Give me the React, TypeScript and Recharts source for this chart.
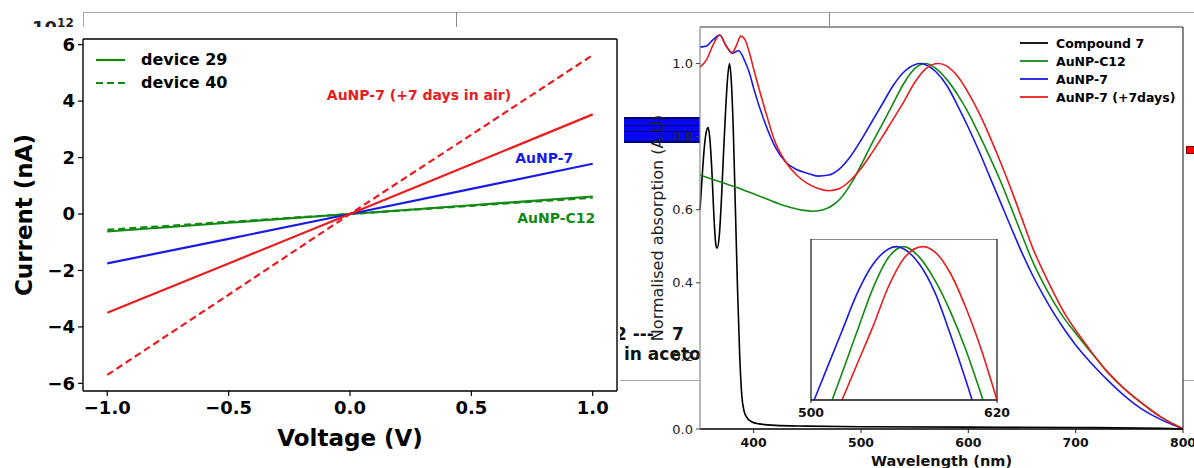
import React from 'react';
import { LineChart, Line, XAxis, YAxis, ReferenceLine, ReferenceArea, ReferenceDot } from 'recharts';

const FONT = '"DejaVu Sans", Verdana, sans-serif';
const RED = '#e81c1c';
const BLUE = '#1a1ae6';
const GREEN = '#128a12';

// ---- left panel: I-V sweeps (nA vs V)
const voltage = [-1, -0.5, 0, 0.5, 1];
const c12Dev29 = [-0.62, -0.31, 0, 0.31, 0.62];
const c12Dev40 = [-0.56, -0.28, 0, 0.29, 0.58];
const au7Dev29 = [-1.75, -0.88, 0, 0.89, 1.78];
const airDev29 = [-3.5, -1.75, 0, 1.76, 3.53];
const airDev40 = [-5.7, -2.86, 0, 2.81, 5.63];
const voltTicks = [-1, -0.5, 0, 0.5, 1];
const currentTicks = [-6, -4, -2, 0, 2, 4, 6];

// ---- right panel: normalised UV-vis absorption
const compoundWl = [350, 352, 354, 356, 357.5, 359, 361, 363, 365, 366, 368, 370, 372, 374, 376, 377.5, 379, 381, 383, 385, 387, 389, 391, 394, 398, 405, 420, 450, 500, 600, 700, 780, 800];
const compoundAbs = [0.6, 0.69, 0.77, 0.815, 0.825, 0.8, 0.71, 0.58, 0.5, 0.495, 0.53, 0.63, 0.76, 0.88, 0.97, 1.0, 0.96, 0.82, 0.6, 0.38, 0.2, 0.09, 0.05, 0.03, 0.02, 0.014, 0.01, 0.008, 0.006, 0.005, 0.004, 0.002, 0.0];

const c12Wl = [350, 370, 390, 410, 430, 445, 455, 465, 475, 480, 490, 500, 510, 520, 530, 540, 550, 560, 570, 580, 590, 600, 610, 620, 630, 640, 650, 660, 670, 680, 690, 700, 710, 720, 730, 740, 750, 760, 770, 780, 790, 800];
const c12Abs = [0.695, 0.675, 0.655, 0.632, 0.61, 0.599, 0.596, 0.6, 0.615, 0.628, 0.668, 0.722, 0.78, 0.835, 0.891, 0.946, 0.986, 1.0, 0.986, 0.956, 0.915, 0.865, 0.806, 0.744, 0.678, 0.605, 0.53, 0.458, 0.398, 0.345, 0.3, 0.262, 0.225, 0.19, 0.155, 0.125, 0.098, 0.074, 0.052, 0.032, 0.015, 0.0];

const au7Wl = [350, 356, 362, 368.5, 374, 380, 386, 392, 396, 400, 410, 420, 430, 440, 450, 460, 470, 480, 490, 500, 510, 520, 530, 540, 550, 555, 560, 570, 580, 590, 600, 610, 620, 630, 640, 650, 660, 670, 680, 690, 700, 710, 720, 730, 740, 750, 760, 770, 780, 790, 800];
const au7Abs = [1.045, 1.048, 1.065, 1.078, 1.05, 1.028, 1.035, 1.005, 0.975, 0.932, 0.842, 0.772, 0.73, 0.71, 0.7, 0.692, 0.695, 0.712, 0.745, 0.79, 0.84, 0.89, 0.94, 0.977, 0.997, 1.0, 0.997, 0.977, 0.94, 0.885, 0.825, 0.76, 0.69, 0.62, 0.55, 0.482, 0.42, 0.365, 0.315, 0.27, 0.23, 0.195, 0.163, 0.133, 0.105, 0.08, 0.058, 0.04, 0.025, 0.012, 0.0];

const airWl = [350, 356, 362, 368.5, 374, 380, 384, 388, 392, 396, 400, 410, 420, 430, 440, 450, 460, 470, 480, 490, 500, 510, 520, 530, 540, 550, 560, 572, 580, 590, 600, 610, 620, 630, 640, 650, 660, 670, 680, 690, 700, 710, 720, 730, 740, 750, 760, 770, 780, 790, 800];
const airAbs = [0.99, 1.01, 1.05, 1.078, 1.05, 1.03, 1.05, 1.075, 1.065, 1.03, 0.985, 0.88, 0.785, 0.73, 0.695, 0.672, 0.658, 0.652, 0.658, 0.68, 0.713, 0.755, 0.8, 0.848, 0.896, 0.948, 0.985, 1.0, 0.993, 0.965, 0.92, 0.865, 0.8, 0.73, 0.655, 0.575, 0.495, 0.43, 0.37, 0.315, 0.27, 0.23, 0.19, 0.155, 0.125, 0.098, 0.075, 0.052, 0.032, 0.015, 0.0];

const wlTicks = [400, 500, 600, 700, 800];
const absTicks = [0, 0.2, 0.4, 0.6, 0.8, 1.0];
const insetTicks = [500, 620];

const toIV = (vals: number[]) => voltage.map((v, i) => ({ v, i: vals[i] }));
const toSpec = (wl: number[], a: number[]) => wl.map((w, i) => ({ wl: w, a: a[i] }));

const ivSeries = [
  { key: 'c12-29', data: toIV(c12Dev29), color: GREEN, dash: undefined },
  { key: 'c12-40', data: toIV(c12Dev40), color: GREEN, dash: '7 4' },
  { key: 'au7-29', data: toIV(au7Dev29), color: BLUE, dash: undefined },
  { key: 'air-29', data: toIV(airDev29), color: RED, dash: undefined },
  { key: 'air-40', data: toIV(airDev40), color: RED, dash: '7 4' },
];

const specSeries = [
  { name: 'Compound 7', data: toSpec(compoundWl, compoundAbs), color: '#000000' },
  { name: 'AuNP-C12', data: toSpec(c12Wl, c12Abs), color: GREEN },
  { name: 'AuNP-7', data: toSpec(au7Wl, au7Abs), color: BLUE },
  { name: 'AuNP-7 (+7days)', data: toSpec(airWl, airAbs), color: RED },
];

const minus = (s: string) => s.replace('-', '\u2212');
const fmtV = (v: number) => minus(v.toFixed(1));
const fmtI = (v: number) => minus(String(v));

const abs = (style: React.CSSProperties): React.CSSProperties => ({ position: 'absolute', ...style });

const App = () => {
  const boldTick = { fill: '#000', fontSize: 18, fontWeight: 'bold', fontFamily: FONT };
  return (
    <div style={abs({ left: 0, top: 0, width: 1194, height: 468, background: '#fff', overflow: 'hidden', fontFamily: FONT })}>
      {/* leftovers of the figure behind */}
      <div style={abs({ left: 83, top: 12, width: 1111, borderTop: '1.5px solid #a8a8a8' })} />
      <div style={abs({ left: 83, top: 12, height: 16, borderLeft: '1.5px solid #a8a8a8' })} />
      <div style={abs({ left: 456, top: 12, height: 15, borderLeft: '1.5px solid #888' })} />
      <div style={abs({ left: 829, top: 12, height: 14, borderLeft: '1.5px solid #888' })} />
      <div style={abs({ left: 32, top: 16, fontSize: 18, fontWeight: 'bold', color: '#222' })}>
        10<sup style={{ fontSize: 12 }}>12</sup>
      </div>
      <div style={abs({ left: 620, top: 380, width: 574, borderTop: '1.5px solid #a8a8a8' })} />
      <div style={abs({ left: 624, top: 117, width: 76, height: 22, background: '#0808f0', borderTop: '2px solid #000070', borderBottom: '2px solid #000070' })}>
        <div style={abs({ left: 0, top: 6, width: 76, borderTop: '1px solid #000090' })} />
        <div style={abs({ left: 0, top: 12, width: 76, borderTop: '1px solid #000090' })} />
      </div>
      <div style={abs({ left: 1186, top: 146, width: 10, height: 6, background: '#f00', border: '1px solid #700' })} />
      <div style={abs({ left: 615, top: 324, fontSize: 17, fontWeight: 'bold', color: '#111', whiteSpace: 'pre' })}>2 ---</div>
      <div style={abs({ left: 672, top: 324, fontSize: 17, fontWeight: 'bold', color: '#111' })}>7</div>
      <div style={abs({ left: 624, top: 344, fontSize: 17, fontWeight: 'bold', color: '#111', whiteSpace: 'pre' })}>in acetone</div>

      {/* left panel */}
      <div style={abs({ left: 0, top: 27, width: 620, height: 441, background: '#fff' })} />
      <div style={abs({ left: 0, top: 0 })}>
        <LineChart width={620} height={468} margin={{ top: 39, right: 3, bottom: 0, left: 0 }}>
          <XAxis
            type="number"
            dataKey="v"
            domain={[-1.1, 1.1]}
            ticks={voltTicks}
            tickFormatter={fmtV}
            height={77}
            tickSize={5}
            tickMargin={5}
            axisLine={{ stroke: '#000', strokeWidth: 1.4 }}
            tickLine={{ stroke: '#000', strokeWidth: 1.2 }}
            tick={boldTick}
            label={{ value: 'Voltage (V)', position: 'center', dy: 8, fill: '#000', fontSize: 23, fontWeight: 'bold', fontFamily: FONT }}
          />
          <YAxis
            type="number"
            domain={[-6.27, 6.2]}
            ticks={currentTicks}
            tickFormatter={fmtI}
            width={83}
            tickSize={5}
            tickMargin={3}
            axisLine={{ stroke: '#000', strokeWidth: 1.4 }}
            tickLine={{ stroke: '#000', strokeWidth: 1.2 }}
            tick={boldTick}
            label={{ value: 'Current (nA)', angle: -90, position: 'center', dx: -18, fill: '#000', fontSize: 23, fontWeight: 'bold', fontFamily: FONT }}
          />
          <ReferenceLine y={6.2} stroke="#000" strokeWidth={1.4} />
          <ReferenceLine x={1.1} stroke="#000" strokeWidth={1.4} />
          {ivSeries.map(s => (
            <Line
              key={s.key}
              data={s.data}
              dataKey="i"
              type="linear"
              stroke={s.color}
              strokeWidth={2.2}
              strokeDasharray={s.dash}
              dot={false}
              isAnimationActive={false}
            />
          ))}
          <ReferenceDot x={0.284} y={4.21} r={0} fill="none" stroke="none"
            label={{ value: 'AuNP-7 (+7 days in air)', position: 'center', fill: RED, fontSize: 14, fontWeight: 'bold', fontFamily: FONT }} />
          <ReferenceDot x={0.8} y={1.98} r={0} fill="none" stroke="none"
            label={{ value: 'AuNP-7', position: 'center', fill: BLUE, fontSize: 14, fontWeight: 'bold', fontFamily: FONT }} />
          <ReferenceDot x={0.85} y={-0.16} r={0} fill="none" stroke="none"
            label={{ value: 'AuNP-C12', position: 'center', fill: GREEN, fontSize: 14, fontWeight: 'bold', fontFamily: FONT }} />
        </LineChart>
      </div>
      <div style={abs({ left: 96, top: 48, fontSize: 16, fontWeight: 'bold', color: '#000' })}>
        {[{ label: 'device 29', dash: undefined }, { label: 'device 40', dash: '7 4' }].map(r => (
          <div key={r.label} style={{ display: 'flex', alignItems: 'center', height: 23 }}>
            <svg width={29} height={4}>
              <line x1={0} y1={2} x2={29} y2={2} stroke={GREEN} strokeWidth={2.2} strokeDasharray={r.dash} />
            </svg>
            <span style={{ marginLeft: 16 }}>{r.label}</span>
          </div>
        ))}
      </div>

      {/* right panel */}
      <div style={abs({ left: 620, top: 0 })}>
        <LineChart width={574} height={468} margin={{ top: 27, right: 11, bottom: 0, left: 0 }}>
          <ReferenceArea x1={350} x2={800} y1={0} y2={1.1} fill="#fff" fillOpacity={1} stroke="none" />
          <XAxis
            type="number"
            dataKey="wl"
            domain={[350, 800]}
            ticks={wlTicks}
            height={39}
            tickSize={4}
            tickMargin={5}
            axisLine={{ stroke: '#000', strokeWidth: 1.6 }}
            tickLine={{ stroke: '#222' }}
            tick={{ fill: '#111', fontSize: 12.5, fontWeight: 'bold', fontFamily: FONT }}
            label={{ value: 'Wavelength (nm)', position: 'center', dy: 12, fill: '#111', fontSize: 14.5, fontWeight: 'bold', fontFamily: FONT }}
          />
          <YAxis
            type="number"
            domain={[0, 1.1]}
            ticks={absTicks}
            tickFormatter={(v: number) => v.toFixed(1)}
            width={80}
            tickSize={4}
            tickMargin={3}
            axisLine={{ stroke: '#8a8a8a', strokeWidth: 1.2 }}
            tickLine={{ stroke: '#444' }}
            tick={{ fill: '#222', fontSize: 13, fontFamily: FONT }}
            label={{ value: 'Normalised absorption (A.U)', angle: -90, position: 'center', dx: -3, fill: '#222', fontSize: 16, fontFamily: FONT }}
          />
          <ReferenceLine y={1.1} stroke="#333" strokeWidth={1.2} />
          <ReferenceLine x={800} stroke="#333" strokeWidth={1.2} />
          {specSeries.map(s => (
            <Line
              key={s.name}
              data={s.data}
              dataKey="a"
              type="monotone"
              stroke={s.color}
              strokeWidth={1.6}
              dot={false}
              isAnimationActive={false}
            />
          ))}
        </LineChart>
      </div>
      <div style={abs({ left: 1020, top: 34, fontSize: 12.5, fontWeight: 'bold', color: '#000' })}>
        {specSeries.map(s => (
          <div key={s.name} style={{ display: 'flex', alignItems: 'center', height: 18 }}>
            <svg width={28} height={4}>
              <line x1={0} y1={2} x2={28} y2={2} stroke={s.color} strokeWidth={1.8} />
            </svg>
            <span style={{ marginLeft: 8 }}>{s.name}</span>
          </div>
        ))}
      </div>

      {/* inset: zoom on the plasmon peak */}
      <div style={abs({ left: 791, top: 239 })}>
        <LineChart width={226} height={186} margin={{ top: 0, right: 20, bottom: 0, left: 20 }}>
          <ReferenceArea x1={500} x2={620} y1={0.8} y2={1.01} fill="#fff" fillOpacity={1} stroke="#111" strokeWidth={1.2} />
          <XAxis
            type="number"
            dataKey="wl"
            domain={[500, 620]}
            ticks={insetTicks}
            allowDataOverflow
            height={25}
            tickSize={3}
            tickMargin={5}
            axisLine={{ stroke: '#111', strokeWidth: 1.2 }}
            tickLine={{ stroke: '#111' }}
            tick={{ fill: '#111', fontSize: 12.5, fontWeight: 'bold', fontFamily: FONT }}
          />
          <YAxis type="number" domain={[0.8, 1.01]} allowDataOverflow hide />
          {specSeries.slice(1).map(s => (
            <Line
              key={s.name}
              data={s.data}
              dataKey="a"
              type="monotone"
              stroke={s.color}
              strokeWidth={1.6}
              dot={false}
              isAnimationActive={false}
            />
          ))}
        </LineChart>
      </div>
    </div>
  );
};

export default App;
